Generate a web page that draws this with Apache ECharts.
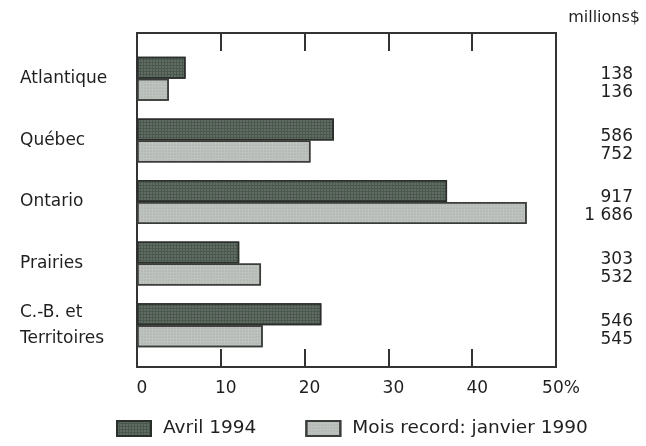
<!DOCTYPE html>
<html>
<head>
<meta charset="utf-8">
<script src="https://cdn.jsdelivr.net/npm/echarts@6/dist/echarts.min.js"></script>
<style>html,body{margin:0;padding:0;background:#fff;}#c{width:646px;height:446px;}</style>
</head>
<body>
<div id="c"></div>
<script>
const categories = ['Atlantique', 'Québec', 'Ontario', 'Prairies', 'C.-B. et\nTerritoires'];
const seriesNames = ['Avril 1994', 'Mois record: janvier 1990'];
const pctApr1994 = [5.8, 23.5, 37.0, 12.2, 22.0];
const pctJan1990 = [3.8, 20.7, 46.5, 14.8, 15.0];
const millionsApr1994 = ['138', '586', '917', '303', '546'];
const millionsJan1990 = ['136', '752', '1 686', '532', '545'];
const xTicks = [0, 10, 20, 30, 40, 50];
const unitLabel = 'millions$';

const FONT = 'DejaVu Sans';
const TXT = '#1f1f1f';
const chart = echarts.init(document.getElementById('c'), null, {renderer: 'canvas'});
const gridBox = {left: 137, right: 90, top: 33, bottom: 79};
const gridData = {left: 137, right: 90, top: 48, height: 308};
const gridRight = {left: 137, right: 90, top: 53, height: 308};

chart.setOption({
  animation: false,
  backgroundColor: '#ffffff',
  aria: {enabled: true, decal: {show: true}},
  textStyle: {fontFamily: FONT, color: TXT},
  graphic: [{
    type: 'text', right: 6, top: 10,
    style: {text: unitLabel, font: '16px "DejaVu Sans"', fill: TXT}
  }],
  legend: {
    left: 116, top: 419, padding: 0,
    icon: 'rect',
    itemWidth: 34, itemHeight: 15, itemGap: 49,
    textStyle: {fontFamily: FONT, fontSize: 18.5, color: TXT, padding: [0, 0, 0, 7]},
    data: seriesNames
  },
  grid: [
    Object.assign({show: true, borderColor: '#333', borderWidth: 2, backgroundColor: 'transparent'}, gridBox),
    gridData,
    gridRight
  ],
  xAxis: [
    {
      gridIndex: 0, type: 'value', min: xTicks[0], max: xTicks[xTicks.length - 1], interval: 10,
      position: 'bottom',
      axisLine: {show: true, lineStyle: {color: '#333', width: 2}},
      axisTick: {show: true, inside: true, length: 18, lineStyle: {color: '#333', width: 2}},
      splitLine: {show: false},
      axisLabel: {
        margin: 13, fontFamily: FONT, fontSize: 17, color: TXT, padding: [0, 0, 0, 10],
        formatter: v => (v === xTicks[xTicks.length - 1] ? v + '%' : String(v))
      }
    },
    {
      gridIndex: 0, type: 'value', min: xTicks[0], max: xTicks[xTicks.length - 1], interval: 10,
      position: 'top',
      axisLine: {show: true, lineStyle: {color: '#333', width: 2}},
      axisTick: {show: true, inside: true, length: 18, lineStyle: {color: '#333', width: 2}},
      splitLine: {show: false},
      axisLabel: {show: false}
    },
    {gridIndex: 1, type: 'value', min: 0, max: 50, show: false},
    {gridIndex: 2, type: 'value', min: 0, max: 50, show: false}
  ],
  yAxis: [
    {gridIndex: 0, type: 'value', show: false, min: 0, max: 1},
    {
      gridIndex: 1, type: 'category', data: categories, inverse: true, position: 'left',
      axisLine: {show: false}, axisTick: {show: false}, splitLine: {show: false},
      axisLabel: {align: 'left', margin: 117, fontFamily: FONT, fontSize: 17, color: TXT, lineHeight: 26}
    },
    {
      gridIndex: 2, type: 'category', data: categories, inverse: true, position: 'right',
      axisLine: {show: false}, axisTick: {show: false}, splitLine: {show: false},
      axisLabel: {
        align: 'right', margin: 77, fontFamily: FONT, fontSize: 17, color: TXT,
        lineHeight: 18,
        formatter: (v, i) => millionsApr1994[i] + '\n' + millionsJan1990[i]
      }
    }
  ],
  series: [
    {
      name: seriesNames[0], type: 'bar', xAxisIndex: 2, yAxisIndex: 1,
      data: pctApr1994, barWidth: 22, barGap: '0%',
      itemStyle: {
        color: '#4a584e', borderColor: '#2b2f2c', borderWidth: 1.5,
        decal: {symbol: 'circle', symbolSize: 0.7, color: 'rgba(215,222,215,0.45)', dashArrayX: [2, 1], dashArrayY: [2, 1], rotation: 0}
      }
    },
    {
      name: seriesNames[1], type: 'bar', xAxisIndex: 2, yAxisIndex: 1,
      data: pctJan1990, barWidth: 22, barGap: '0%',
      itemStyle: {
        color: '#bfc3bf', borderColor: '#3a3d3a', borderWidth: 1.5,
        decal: {symbol: 'circle', symbolSize: 0.6, color: 'rgba(70,80,72,0.35)', dashArrayX: [2, 1], dashArrayY: [2, 1], rotation: 0}
      }
    }
  ]
});
</script>
</body>
</html>
